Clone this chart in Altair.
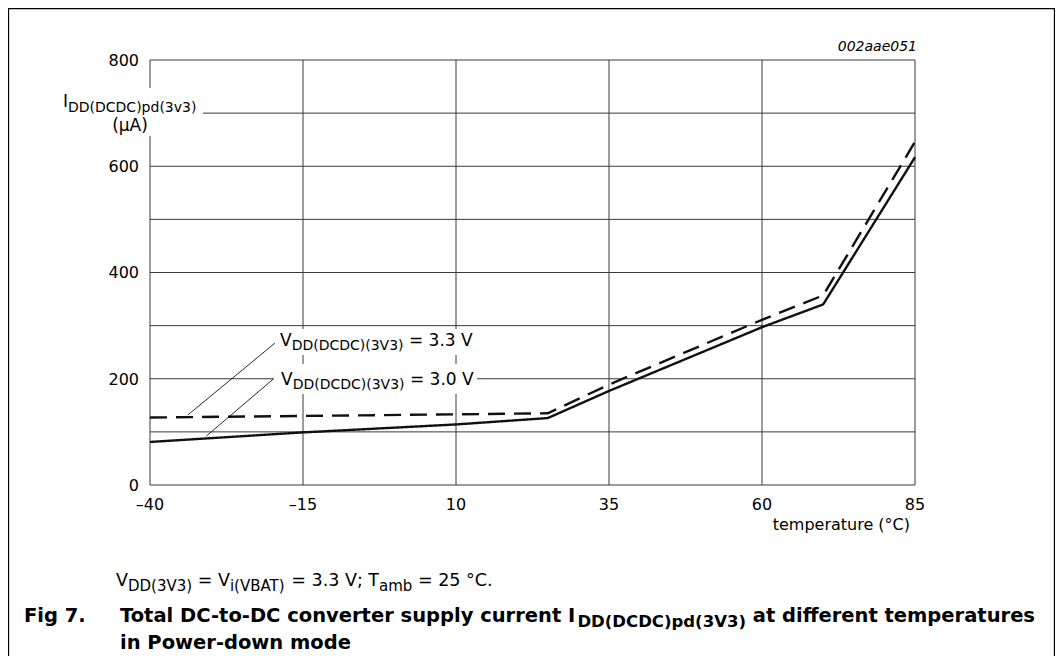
import altair as alt
import pandas as pd

# ---------------- data ----------------
temperature_30 = [-40, -15, 10, 25, 35, 60, 70, 85]
current_30 = [81, 99, 114, 126, 177, 297, 340, 617]
temperature_33 = [-40, -15, 10, 25, 35, 60, 70, 85]
current_33 = [127, 130, 133, 135, 189, 311, 357, 646]
x_ticks = [-40, -15, 10, 35, 60, 85]
x_tick_labels = ["–40", "–15", "10", "35", "60", "85"]
y_grid = [0, 100, 200, 300, 400, 500, 600, 700, 800]
y_labels = [0, 200, 400, 600, 800]

FONT = "DejaVu Sans"
GRID = "#3a3a3a"
INK = "#111111"
PLOT_W, PLOT_H = 765, 425

df = pd.DataFrame(
    {"temp": temperature_30 + temperature_33,
     "cur": current_30 + current_33,
     "series": ["3.0 V"] * len(temperature_30) + ["3.3 V"] * len(temperature_33)}
)

xscale = alt.Scale(domain=[-40, 85], nice=False, zero=False)
yscale = alt.Scale(domain=[0, 800], nice=False, zero=False)

# approximate DejaVu Sans advance widths (em)
W_REG = {" ": .318, "(": .390, ")": .390, ".": .318, ";": .337, "=": .838, "-": .361,
         "°": .400, "A": .684, "B": .686, "C": .698, "D": .770, "F": .575, "I": .295,
         "P": .603, "T": .611, "V": .684, "a": .613, "b": .635, "c": .550, "d": .635,
         "e": .615, "f": .352, "g": .635, "h": .634, "i": .278, "l": .278, "m": .974,
         "n": .634, "o": .612, "p": .635, "r": .411, "s": .521, "t": .392, "u": .634,
         "v": .592, "w": .818, "y": .592, "μ": .636}
W_BOLD = {" ": .348, "(": .457, ")": .457, ".": .380, "-": .415, "C": .734, "D": .830,
          "F": .683, "I": .372, "P": .733, "T": .682, "V": .774, "a": .675, "c": .593,
          "d": .716, "e": .678, "f": .435, "g": .716, "i": .343, "l": .343, "m": 1.042,
          "n": .712, "o": .687, "p": .716, "r": .493, "s": .595, "t": .478, "u": .712,
          "v": .652, "w": .924, "y": .652}


def text_width(s, size, bold=False):
    table = W_BOLD if bold else W_REG
    digit = .696 if bold else .636
    return sum(table.get(c, digit if c.isdigit() else .6) for c in s) * size


def rich_text(x0, y0, runs, bold=False):
    out = []
    x = x0
    for txt, size, dy in runs:
        stripped = txt.lstrip(" ")
        x += text_width(txt[: len(txt) - len(stripped)], size, bold)
        body = stripped.rstrip(" ")
        out.append(
            alt.Chart(alt.Data(values=[{}])).mark_text(
                text=body, font=FONT, fontSize=size, align="left", baseline="alphabetic",
                fontWeight="bold" if bold else "normal", color="black"
            ).encode(x=alt.value(x), y=alt.value(y0 + dy))
        )
        x += text_width(stripped, size, bold)
    return out


def plain_text(x, y, txt, size, align="left", bold=False, italic=False):
    return alt.Chart(alt.Data(values=[{}])).mark_text(
        text=txt, font=FONT, fontSize=size, align=align, baseline="alphabetic",
        fontWeight="bold" if bold else "normal",
        fontStyle="italic" if italic else "normal", color="black"
    ).encode(x=alt.value(x), y=alt.value(y))


def box(x, x2, y, y2, **kw):
    return alt.Chart(alt.Data(values=[{}])).mark_rect(**kw).encode(
        x=alt.value(x), x2=alt.value(x2), y=alt.value(y), y2=alt.value(y2)
    )


# ---- grid, frame of the plot and tick labels, drawn through the scales ----
vgrid = alt.Chart(pd.DataFrame({"t": x_ticks})).mark_rule(color=GRID, strokeWidth=1).encode(
    x=alt.X("t:Q", scale=xscale, axis=None), y=alt.value(0), y2=alt.value(PLOT_H))
hgrid = alt.Chart(pd.DataFrame({"v": y_grid})).mark_rule(color=GRID, strokeWidth=1).encode(
    y=alt.Y("v:Q", scale=yscale, axis=None), x=alt.value(0), x2=alt.value(PLOT_W))
xlab = alt.Chart(pd.DataFrame({"t": x_ticks, "lab": x_tick_labels})).mark_text(
    font=FONT, fontSize=16, align="center", baseline="alphabetic", color="black").encode(
    x=alt.X("t:Q", scale=xscale, axis=None), y=alt.value(PLOT_H + 24.7), text="lab:N")
ylab = alt.Chart(pd.DataFrame({"v": y_labels})).mark_text(
    font=FONT, fontSize=16, align="right", baseline="alphabetic", color="black", dy=5.8).encode(
    y=alt.Y("v:Q", scale=yscale, axis=None), x=alt.value(-11), text="v:Q")

lines = alt.Chart(df).mark_line(color=INK, strokeWidth=2.4).encode(
    x=alt.X("temp:Q", scale=xscale, axis=None),
    y=alt.Y("cur:Q", scale=yscale, axis=None),
    strokeDash=alt.StrokeDash("series:N", scale=alt.Scale(
        domain=["3.0 V", "3.3 V"], range=[[1, 0], [17, 9]]), legend=None),
    detail="series:N",
)

# leader lines from labels to the curves
leader_df = pd.DataFrame({
    "xa": [-19.6, -19.9], "xb": [-33.8, -30.8],
    "ya": [267, 199], "yb": [132, 92],
})
leaders = alt.Chart(leader_df).mark_rule(color=INK, strokeWidth=0.9).encode(
    x=alt.X("xa:Q", scale=xscale, axis=None), x2="xb:Q",
    y=alt.Y("ya:Q", scale=yscale, axis=None), y2="yb:Q",
)

M, S = 17, 14
layers = [
    vgrid, hgrid,
    box(-97, 53, 28, 76, color="white"),          # behind y title
    box(124, 327, 269, 295, color="white"),       # behind 3.3 V label
    box(124, 327, 304, 334, color="white"),       # behind 3.0 V label
    lines, leaders, xlab, ylab,
]
layers += rich_text(130, 286, [("V", M, 0), ("DD(DCDC)(3V3)", S, 4), (" = 3.3 V", M, 0)])
layers += rich_text(131, 325, [("V", M, 0), ("DD(DCDC)(3V3)", S, 4), (" = 3.0 V", M, 0)])
layers += rich_text(-87, 47, [("I", M, 0), ("DD(DCDC)pd(3v3)", S, 4.5)])
layers.append(plain_text(-20, 71, "(μA)", M, align="center"))
layers.append(plain_text(760, 470, "temperature (°C)", 16, align="right"))
layers.append(plain_text(767, -9, "002aae051", 14, align="right", italic=True))

CM, CS = 17.5, 15
layers += rich_text(-34, 526, [("V", CM, 0), ("DD(3V3)", CS, 4.5), (" = V", CM, 0),
                               ("i(VBAT)", CS, 4.5), (" = 3.3 V; T", CM, 0),
                               ("amb", CS, 4.5), (" = 25 °C.", CM, 0)])
TM, TS = 19.5, 16.5
layers.append(plain_text(-126, 562, "Fig 7.", TM, bold=True))
layers += rich_text(-30, 562, [("Total DC-to-DC converter supply current I", TM, 0),
                               ("DD(DCDC)pd(3V3)", TS, 4.5),
                               (" at different temperatures", TM, 0)], bold=True)
layers.append(plain_text(-30, 589, "in Power-down mode", TM, bold=True))
layers.append(box(-141.5, 904.5, -51.5, 700, filled=False, stroke="black", strokeWidth=1.3))

chart = alt.layer(*layers).properties(
    width=PLOT_W, height=PLOT_H,
    padding={"left": 142, "top": 52, "right": 140, "bottom": 171},
    autosize=alt.AutoSizeParams(type="none"),
    background="white",
).configure_view(stroke=None)

chart.save("out.html", embed_options={"renderer": "svg", "actions": False})
